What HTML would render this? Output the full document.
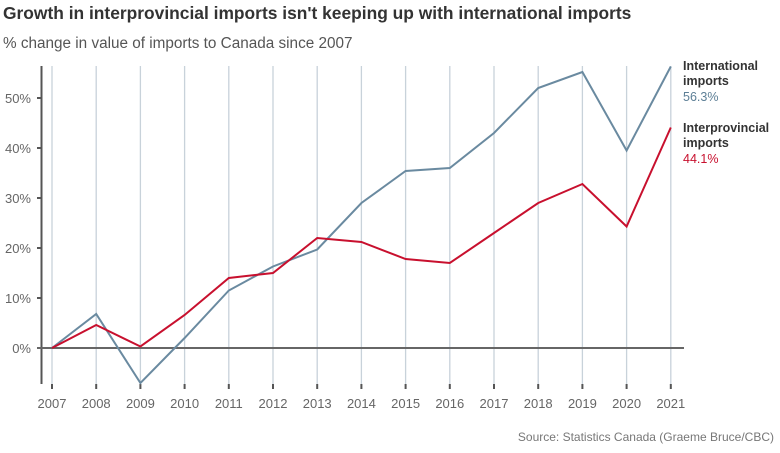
<!DOCTYPE html>
<html><head><meta charset="utf-8"><style>
body{margin:0;background:#fff;width:780px;height:448px;overflow:hidden;font-family:"Liberation Sans",sans-serif}
</style></head><body>
<svg width="780" height="448" xmlns="http://www.w3.org/2000/svg" font-family="Liberation Sans, sans-serif">
<text x="3" y="19" font-size="17.4" font-weight="bold" fill="#333">Growth in interprovincial imports isn't keeping up with international imports</text>
<text x="3" y="48" font-size="15.3" fill="#555">% change in value of imports to Canada since 2007</text>
<g stroke="#c8d2da" stroke-width="1.3">
<line x1="52" y1="66" x2="52" y2="384"/><line x1="96.2" y1="66" x2="96.2" y2="384"/><line x1="140.4" y1="66" x2="140.4" y2="384"/><line x1="184.6" y1="66" x2="184.6" y2="384"/><line x1="228.8" y1="66" x2="228.8" y2="384"/><line x1="273" y1="66" x2="273" y2="384"/><line x1="317.2" y1="66" x2="317.2" y2="384"/><line x1="361.4" y1="66" x2="361.4" y2="384"/><line x1="405.6" y1="66" x2="405.6" y2="384"/><line x1="449.8" y1="66" x2="449.8" y2="384"/><line x1="494" y1="66" x2="494" y2="384"/><line x1="538.2" y1="66" x2="538.2" y2="384"/><line x1="582.4" y1="66" x2="582.4" y2="384"/><line x1="626.6" y1="66" x2="626.6" y2="384"/><line x1="670.8" y1="66" x2="670.8" y2="384"/>
</g>
<g stroke="#555" stroke-width="2">
<line x1="52" y1="384" x2="52" y2="389"/><line x1="96.2" y1="384" x2="96.2" y2="389"/><line x1="140.4" y1="384" x2="140.4" y2="389"/><line x1="184.6" y1="384" x2="184.6" y2="389"/><line x1="228.8" y1="384" x2="228.8" y2="389"/><line x1="273" y1="384" x2="273" y2="389"/><line x1="317.2" y1="384" x2="317.2" y2="389"/><line x1="361.4" y1="384" x2="361.4" y2="389"/><line x1="405.6" y1="384" x2="405.6" y2="389"/><line x1="449.8" y1="384" x2="449.8" y2="389"/><line x1="494" y1="384" x2="494" y2="389"/><line x1="538.2" y1="384" x2="538.2" y2="389"/><line x1="582.4" y1="384" x2="582.4" y2="389"/><line x1="626.6" y1="384" x2="626.6" y2="389"/><line x1="670.8" y1="384" x2="670.8" y2="389"/>
<line x1="41.5" y1="66" x2="41.5" y2="384"/>
<line x1="37" y1="98" x2="41" y2="98"/><line x1="37" y1="148" x2="41" y2="148"/><line x1="37" y1="198" x2="41" y2="198"/><line x1="37" y1="248" x2="41" y2="248"/><line x1="37" y1="298" x2="41" y2="298"/>
<line x1="37" y1="348" x2="684" y2="348" stroke="#666"/>
</g>
<g font-size="13" fill="#666" text-anchor="end">
<text x="31" y="103">50%</text><text x="31" y="153">40%</text><text x="31" y="203">30%</text><text x="31" y="253">20%</text><text x="31" y="303">10%</text><text x="31" y="353">0%</text>
</g>
<g font-size="13" fill="#666" text-anchor="middle">
<text x="52" y="408">2007</text><text x="96.2" y="408">2008</text><text x="140.4" y="408">2009</text><text x="184.6" y="408">2010</text><text x="228.8" y="408">2011</text><text x="273" y="408">2012</text><text x="317.2" y="408">2013</text><text x="361.4" y="408">2014</text><text x="405.6" y="408">2015</text><text x="449.8" y="408">2016</text><text x="494" y="408">2017</text><text x="538.2" y="408">2018</text><text x="582.4" y="408">2019</text><text x="626.6" y="408">2020</text><text x="670.8" y="408">2021</text>
</g>
<polyline fill="none" stroke="#6a8aa0" stroke-width="2" points="52,348 96.2,314 140.4,383 184.6,338 228.8,290.5 273,266.5 317.2,249.5 361.4,203 405.6,171 449.8,168 494,133 538.2,88 582.4,72 626.6,150.5 670.8,66.5"/>
<polyline fill="none" stroke="#c8102e" stroke-width="2" points="52,348 96.2,325 140.4,346.5 184.6,315 228.8,278 273,273 317.2,238 361.4,242 405.6,259 449.8,263 494,233 538.2,203 582.4,184 626.6,226.5 670.8,127.5"/>
<g font-size="12.5">
<text x="683" y="70" font-weight="bold" fill="#333">International</text>
<text x="683" y="85" font-weight="bold" fill="#333">imports</text>
<text x="683" y="101" fill="#5d7f96">56.3%</text>
<text x="683" y="132" font-weight="bold" fill="#333">Interprovincial</text>
<text x="683" y="147" font-weight="bold" fill="#333">imports</text>
<text x="683" y="163" fill="#c8102e">44.1%</text>
</g>
<text x="774" y="441" font-size="12" fill="#777" text-anchor="end">Source: Statistics Canada (Graeme Bruce/CBC)</text>
</svg>
</body></html>
